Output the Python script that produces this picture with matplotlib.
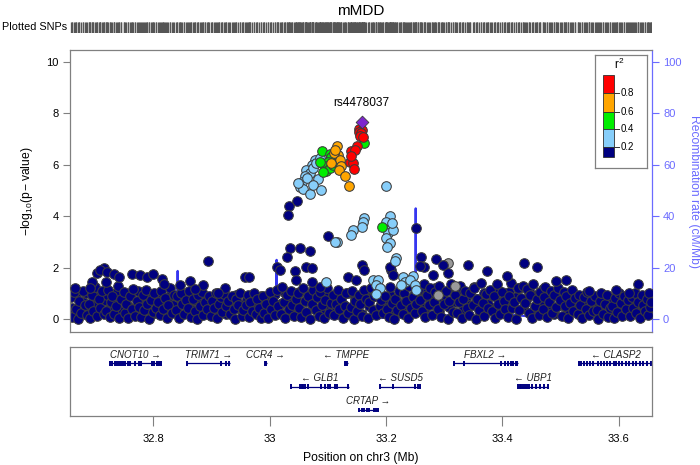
import matplotlib
matplotlib.use("Agg")
import matplotlib.pyplot as plt
from matplotlib.patches import Rectangle

plt.rcParams['font.family'] = ['Liberation Sans', 'DejaVu Sans']
plt.rcParams['mathtext.fontset'] = 'custom'
plt.rcParams['mathtext.rm'] = 'Liberation Sans'
plt.rcParams['mathtext.it'] = 'Liberation Sans:italic'

# ---------------- data ----------------
title = "mMDD"
lead_snp = "rs4478037"
lead_pos = [33.158]
lead_logp = [7.64]

red_pos = [33.1537, 33.1594, 33.1530, 33.1577, 33.1548, 33.1606, 33.1508, 33.1405, 33.1474,
           33.1376, 33.1434, 33.1451, 33.1405]
red_logp = [7.40, 7.35, 7.28, 7.23, 7.12, 7.07, 6.73, 6.51, 6.58, 6.12, 6.06, 5.82, 6.32]

orange_pos = [33.115, 33.118, 33.111, 33.1205, 33.122, 33.1188, 33.129, 33.136, 33.106, 33.113]
orange_logp = [6.71, 6.38, 6.45, 6.19, 5.95, 5.80, 5.54, 5.18, 6.06, 6.55]

green_pos = [33.0903, 33.1034, 33.106, 33.1006, 33.0948, 33.0977, 33.1034, 33.109, 33.0857,
             33.0925, 33.1624, 33.193]
green_logp = [6.51, 6.42, 6.29, 6.12, 5.93, 5.77, 5.86, 5.99, 6.11, 5.72, 6.84, 3.57]

lblue_pos = [33.078, 33.072, 33.063, 33.069, 33.083, 33.0605, 33.055, 33.052, 33.058, 33.069,
             33.049, 33.075, 33.0805, 33.0857, 33.065, 33.075, 33.089, 33.2005,
             33.163, 33.1606, 33.158, 33.1434, 33.1405, 33.115, 33.112,
             33.206, 33.2005, 33.209, 33.203, 33.2005, 33.206, 33.202, 33.2165, 33.2147,
             33.212, 33.210,
             33.0977, 33.1777, 33.186, 33.1834, 33.189, 33.1834, 33.229, 33.246, 33.232,
             33.2404, 33.249, 33.226, 33.252]
lblue_logp = [6.19, 5.99, 5.80, 5.67, 5.43, 5.56, 5.34, 5.12, 5.05, 4.86,
              5.28, 5.86, 6.06, 6.26, 5.49, 5.21, 5.02, 5.18,
              3.92, 3.79, 3.59, 3.46, 3.27, 3.01, 2.98,
              4.00, 3.79, 3.53, 3.33, 3.14, 2.94, 2.81, 2.36, 2.27,
              3.46, 3.75,
              1.45, 1.52, 1.52, 1.32, 1.19, 0.97, 1.65, 1.67, 1.45,
              1.52, 1.32, 1.32, 1.13]

gray_pos = [33.306, 33.318, 33.290]
gray_logp = [2.19, 1.30, 0.95]

# r2 < 0.2 : outliers above the dense band
navy_hi_pos = [32.7035, 32.715, 32.709, 32.7207, 32.732, 32.7407, 32.7635, 32.778, 32.789,
               32.7995, 32.815, 32.818, 32.846, 32.863, 32.886, 32.894, 32.872, 32.923,
               32.912, 32.958, 32.965, 32.695, 32.692, 32.718, 32.666,
               33.0475, 33.033, 33.032, 33.1005, 33.035, 33.029, 33.052, 33.069, 33.012,
               33.018, 33.043, 33.063, 33.072, 33.046, 33.072, 33.086, 33.135, 33.158,
               33.163, 33.149, 33.209, 33.206, 33.212, 33.252, 33.260, 33.266, 33.258,
               33.286, 33.281, 33.298, 33.306,
               33.340, 33.373, 33.4365, 33.459, 33.407, 33.6336, 33.509, 33.492, 33.595,
               33.617, 33.548]
navy_hi_logp = [1.78, 2.00, 1.91, 1.84, 1.74, 1.65, 1.75, 1.71, 1.65,
                1.75, 1.56, 1.35, 1.32, 1.48, 1.32, 2.26, 1.17, 1.19,
                1.00, 1.62, 1.65, 1.45, 1.19, 1.45, 1.19,
                4.60, 4.40, 4.05, 3.24, 2.75, 2.40, 2.75, 2.66, 2.01,
                1.91, 1.88, 2.04, 1.97, 1.52, 1.45, 1.26, 1.65, 2.10,
                1.91, 1.52, 1.91, 2.04, 1.71, 3.53, 2.40, 2.04, 2.06,
                2.32, 1.71, 2.10, 1.78,
                2.10, 1.88, 2.19, 2.01, 1.68, 1.35, 1.52, 1.48, 1.13,
                1.01, 1.09]

# r2 < 0.2 : dense band near the baseline
navy_pos = [
    32.659, 32.661, 32.664, 32.667, 32.670, 32.673, 32.676, 32.679, 32.682, 32.686,
    32.689, 32.692, 32.694, 32.697, 32.700, 32.703, 32.706, 32.709, 32.712, 32.715,
    32.719, 32.722, 32.725, 32.727, 32.730, 32.733, 32.736, 32.739, 32.742, 32.745,
    32.749, 32.751, 32.754, 32.757, 32.760, 32.763, 32.766, 32.769, 32.772, 32.775,
    32.779, 32.782, 32.785, 32.788, 32.790, 32.793, 32.796, 32.799, 32.802, 32.805,
    32.809, 32.812, 32.814, 32.817, 32.820, 32.823, 32.826, 32.829, 32.832, 32.835,
    32.839, 32.841, 32.844, 32.847, 32.850, 32.853, 32.856, 32.859, 32.862, 32.865,
    32.869, 32.872, 32.875, 32.877, 32.880, 32.883, 32.886, 32.889, 32.892, 32.895,
    32.899, 32.901, 32.904, 32.907, 32.910, 32.913, 32.916, 32.919, 32.922, 32.925,
    32.929, 32.932, 32.935, 32.938, 32.940, 32.943, 32.946, 32.949, 32.952, 32.955,
    32.959, 32.962, 32.964, 32.967, 32.970, 32.973, 32.976, 32.979, 32.982, 32.985,
    32.989, 32.991, 32.994, 32.997, 33.000, 33.003, 33.006, 33.009, 33.012, 33.015,
    33.019, 33.022, 33.025, 33.027, 33.030, 33.033, 33.036, 33.039, 33.042, 33.045,
    33.049, 33.051, 33.054, 33.057, 33.060, 33.063, 33.066, 33.069, 33.072, 33.075,
    33.079, 33.082, 33.085, 33.087, 33.090, 33.093, 33.096, 33.099, 33.102, 33.105,
    33.109, 33.111, 33.114, 33.117, 33.120, 33.123, 33.126, 33.129, 33.132, 33.135,
    33.139, 33.142, 33.145, 33.147, 33.150, 33.153, 33.156, 33.159, 33.162, 33.165,
    33.169, 33.171, 33.174, 33.177, 33.180, 33.183, 33.186, 33.189, 33.192, 33.195,
    33.199, 33.202, 33.205, 33.207, 33.210, 33.213, 33.216, 33.219, 33.222, 33.225,
    33.229, 33.231, 33.234, 33.237, 33.240, 33.243, 33.246, 33.249, 33.252, 33.255,
    33.259, 33.262, 33.265, 33.267, 33.270, 33.273, 33.276, 33.279, 33.282, 33.285,
    33.289, 33.291, 33.294, 33.297, 33.300, 33.303, 33.306, 33.309, 33.312, 33.315,
    33.319, 33.322, 33.325, 33.327, 33.330, 33.333, 33.336, 33.339, 33.342, 33.345,
    33.349, 33.351, 33.354, 33.357, 33.360, 33.363, 33.366, 33.369, 33.372, 33.375,
    33.379, 33.382, 33.385, 33.387, 33.390, 33.393, 33.396, 33.399, 33.402, 33.405,
    33.409, 33.411, 33.414, 33.417, 33.420, 33.423, 33.426, 33.429, 33.432, 33.435,
    33.439, 33.442, 33.445, 33.447, 33.450, 33.453, 33.456, 33.459, 33.462, 33.465,
    33.469, 33.471, 33.474, 33.477, 33.480, 33.483, 33.486, 33.489, 33.492, 33.495,
    33.499, 33.502, 33.505, 33.507, 33.510, 33.513, 33.516, 33.519, 33.522, 33.525,
    33.529, 33.531, 33.534, 33.537, 33.540, 33.543, 33.546, 33.549, 33.552, 33.555,
    33.559, 33.562, 33.565, 33.567, 33.570, 33.573, 33.576, 33.579, 33.582, 33.585,
    33.589, 33.591, 33.594, 33.597, 33.600, 33.603, 33.606, 33.609, 33.612, 33.615,
    33.619, 33.622, 33.625, 33.627, 33.630, 33.633, 33.636, 33.639, 33.642, 33.645,
    33.648, 33.650, 33.652, 33.654, 33.656]
navy_logp = [
    0.85, 0.10, 1.05, 0.40, 0.02, 0.70, 0.25, 1.10, 0.55, 0.15,
    0.60, 0.05, 0.95, 0.32, 1.25, 0.12, 0.78, 0.45, 1.10, 0.20,
    0.30, 1.15, 0.08, 0.66, 0.90, 0.18, 0.50, 1.30, 0.03, 0.80,
    1.05, 0.22, 0.60, 0.04, 0.88, 0.38, 1.18, 0.14, 0.70, 0.48,
    0.10, 0.92, 0.35, 1.12, 0.58, 0.02, 0.76, 0.28, 1.00, 0.45,
    0.65, 0.15, 1.08, 0.40, 0.82, 0.06, 0.55, 1.20, 0.25, 0.95,
    0.35, 0.88, 0.05, 1.02, 0.60, 0.18, 0.75, 0.42, 1.10, 0.10,
    0.80, 0.30, 0.02, 0.95, 0.50, 1.05, 0.15, 0.68, 0.38, 0.90,
    0.12, 0.72, 0.44, 1.00, 0.05, 0.60, 0.85, 0.26, 0.96, 0.50,
    0.70, 0.20, 0.90, 0.40, 0.02, 0.78, 0.55, 1.02, 0.12, 0.35,
    0.55, 0.95, 0.08, 0.66, 0.30, 1.00, 0.18, 0.80, 0.45, 0.04,
    0.88, 0.25, 0.60, 0.03, 1.05, 0.40, 0.72, 0.15, 1.15, 0.50,
    0.20, 1.25, 0.65, 0.05, 0.92, 0.38, 1.10, 0.55, 0.12, 0.80,
    1.00, 0.45, 0.08, 1.22, 0.70, 0.28, 0.90, 0.02, 0.58, 1.15,
    0.35, 0.85, 0.12, 1.05, 0.55, 0.03, 0.75, 1.20, 0.25, 0.62,
    0.95, 0.15, 0.60, 1.12, 0.40, 0.80, 0.05, 0.50, 1.00, 0.22,
    0.48, 1.08, 0.02, 0.70, 0.30, 0.92, 0.58, 0.12, 1.15, 0.78,
    0.05, 0.65, 1.20, 0.35, 0.88, 0.15, 1.02, 0.50, 0.75, 0.25,
    0.90, 0.40, 0.10, 1.25, 0.62, 0.02, 0.80, 0.35, 1.10, 0.55,
    0.18, 1.00, 0.70, 0.05, 1.28, 0.45, 0.85, 0.25, 0.60, 1.15,
    0.75, 0.30, 1.35, 0.08, 0.95, 0.55, 1.20, 0.15, 0.68, 1.05,
    0.40, 1.30, 0.10, 0.85, 0.60, 1.10, 0.02, 0.72, 1.38, 0.28,
    0.95, 0.22, 0.65, 1.28, 0.05, 0.80, 1.10, 0.42, 0.15, 1.00,
    0.55, 1.22, 0.02, 0.78, 0.35, 1.40, 0.62, 0.12, 0.98, 0.45,
    1.15, 0.30, 0.88, 0.05, 1.35, 0.60, 0.20, 1.05, 0.72, 0.40,
    0.10, 0.90, 1.42, 0.45, 0.68, 0.02, 1.20, 0.35, 0.82, 1.30,
    0.62, 1.18, 0.25, 0.95, 0.05, 1.35, 0.50, 0.78, 0.15, 1.05,
    0.38, 0.85, 1.25, 0.08, 0.65, 1.10, 0.22, 0.92, 0.48, 1.20,
    0.75, 0.12, 1.05, 0.50, 0.90, 0.03, 0.62, 1.15, 0.30, 0.82,
    0.20, 0.95, 0.55, 0.05, 0.85, 0.40, 1.05, 0.15, 0.70, 0.30,
    0.88, 0.35, 0.02, 0.72, 1.00, 0.18, 0.58, 0.92, 0.10, 0.45,
    0.50, 0.05, 0.82, 0.28, 1.02, 0.62, 0.14, 0.90, 0.40, 0.75,
    0.12, 0.85, 0.45, 1.00, 0.25, 0.68, 0.05, 0.92, 0.55, 0.30,
    0.78, 0.15, 1.02, 0.48, 0.65]

# r2 < 0.2 : second layer of the dense band
navy2_pos = [
    32.6605, 32.6665, 32.6725, 32.6785, 32.6845, 32.6905, 32.6965, 32.7025, 32.7085, 32.7145,
    32.7205, 32.7265, 32.7325, 32.7385, 32.7445, 32.7505, 32.7565, 32.7625, 32.7685, 32.7745,
    32.7805, 32.7865, 32.7925, 32.7985, 32.8045, 32.8105, 32.8165, 32.8225, 32.8285, 32.8345,
    32.8405, 32.8465, 32.8525, 32.8585, 32.8645, 32.8705, 32.8765, 32.8825, 32.8885, 32.8945,
    32.9005, 32.9065, 32.9125, 32.9185, 32.9245, 32.9305, 32.9365, 32.9425, 32.9485, 32.9545,
    32.9605, 32.9665, 32.9725, 32.9785, 32.9845, 32.9905, 32.9965, 33.0025, 33.0085, 33.0145,
    33.0205, 33.0265, 33.0325, 33.0385, 33.0445, 33.0505, 33.0565, 33.0625, 33.0685, 33.0745,
    33.0805, 33.0865, 33.0925, 33.0985, 33.1045, 33.1105, 33.1165, 33.1225, 33.1285, 33.1345,
    33.1405, 33.1465, 33.1525, 33.1585, 33.1645, 33.1705, 33.1765, 33.1825, 33.1885, 33.1945,
    33.2005, 33.2065, 33.2125, 33.2185, 33.2245, 33.2305, 33.2365, 33.2425, 33.2485, 33.2545,
    33.2605, 33.2665, 33.2725, 33.2785, 33.2845, 33.2905, 33.2965, 33.3025, 33.3085, 33.3145,
    33.3205, 33.3265, 33.3325, 33.3385, 33.3445, 33.3505, 33.3565, 33.3625, 33.3685, 33.3745,
    33.3805, 33.3865, 33.3925, 33.3985, 33.4045, 33.4105, 33.4165, 33.4225, 33.4285, 33.4345,
    33.4405, 33.4465, 33.4525, 33.4585, 33.4645, 33.4705, 33.4765, 33.4825, 33.4885, 33.4945,
    33.5005, 33.5065, 33.5125, 33.5185, 33.5245, 33.5305, 33.5365, 33.5425, 33.5485, 33.5545,
    33.5605, 33.5665, 33.5725, 33.5785, 33.5845, 33.5905, 33.5965, 33.6025, 33.6085, 33.6145,
    33.6205, 33.6265, 33.6325, 33.6385, 33.6445, 33.6505, 33.6555]
navy2_logp = [
    0.45, 0.92, 0.20, 0.68, 1.02, 0.35, 0.58, 0.85, 0.28, 0.72,
    0.95, 0.42, 0.62, 1.05, 0.30, 0.78, 0.52, 0.96, 0.22, 1.10,
    0.64, 0.38, 0.88, 0.18, 0.98, 0.48, 0.70, 0.32, 0.90, 0.55,
    0.28, 0.82, 0.60, 0.95, 0.40, 0.75, 0.22, 0.62, 0.88, 0.45,
    0.70, 0.30, 0.85, 0.52, 0.20, 0.78, 0.42, 0.92, 0.60, 0.25,
    0.80, 0.48, 0.65, 0.32, 0.90, 0.55, 0.18, 0.75, 0.98, 0.40,
    0.62, 1.00, 0.35, 0.82, 0.50, 1.05, 0.28, 0.70, 0.92, 0.45,
    0.85, 0.30, 0.65, 0.95, 0.40, 0.72, 0.22, 0.88, 0.55, 1.02,
    0.35, 0.78, 0.60, 0.18, 0.98, 0.50, 0.85, 0.30, 1.08, 0.65,
    0.45, 0.92, 0.25, 0.70, 1.10, 0.52, 0.80, 0.38, 0.95, 0.62,
    1.15, 0.42, 0.85, 0.60, 1.22, 0.30, 0.98, 0.72, 0.48, 1.08,
    0.65, 1.18, 0.35, 0.88, 0.55, 1.25, 0.78, 0.25, 1.02, 0.60,
    0.92, 0.40, 1.15, 0.70, 0.22, 1.05, 0.58, 0.85, 1.20, 0.45,
    0.75, 1.10, 0.32, 0.95, 0.60, 1.18, 0.42, 0.82, 0.20, 1.00,
    0.55, 0.85, 0.30, 0.72, 0.95, 0.45, 0.65, 0.18, 0.88, 0.50,
    0.70, 0.35, 0.92, 0.58, 0.25, 0.80, 0.48, 0.95, 0.62, 0.38,
    0.82, 0.55, 0.28, 0.75, 0.60, 0.42, 0.70]

recomb_pos = [32.655, 32.700, 32.750, 32.800, 32.8415, 32.842, 32.8425, 32.870, 32.920, 32.960,
              33.000, 33.0115, 33.012, 33.0125, 33.050, 33.100, 33.150, 33.200, 33.2505, 33.251,
              33.2515, 33.300, 33.350, 33.400, 33.450, 33.500, 33.550, 33.600, 33.657]
recomb_rate = [1.0, 0.5, 1.5, 0.8, 1.2, 18.7, 1.0, 0.6, 1.4, 0.8,
               1.0, 1.5, 23.0, 2.0, 0.5, 0.3, 0.2, 0.5, 1.0, 43.0,
               2.0, 1.5, 0.8, 2.0, 1.0, 0.6, 1.8, 0.9, 1.2]

gene_names = ['CNOT10', 'TRIM71', 'CCR4', 'TMPPE', 'GLB1', 'SUSD5', 'FBXL2', 'UBP1', 'CLASP2', 'CRTAP']
gene_start = [32.725, 32.858, 32.992, 33.129, 33.036, 33.189, 33.316, 33.426, 33.532, 33.152]
gene_end = [32.814, 32.932, 32.995, 33.135, 33.136, 33.259, 33.426, 33.479, 33.660, 33.187]
gene_strand = ['+', '+', '+', '-', '-', '-', '+', '-', '-', '+']
gene_row = [1, 1, 1, 1, 2, 2, 1, 2, 1, 3]
gene_exons = [
    [32.7250, 32.7300, 32.7350, 32.7385, 32.7420, 32.7450, 32.7480, 32.7520, 32.7560, 32.7600,
     32.7680, 32.7750, 32.7790, 32.7980, 32.8020, 32.8060, 32.8100, 32.8135],
    [32.8580, 32.9160, 32.9250, 32.9310],
    [32.9920, 32.9935],
    [33.1290, 33.1310, 33.1330],
    [33.0365, 33.0520, 33.0550, 33.0580, 33.0600, 33.0660, 33.0890, 33.0950, 33.1000, 33.1040,
     33.1120, 33.1150, 33.1355],
    [33.1890, 33.2120, 33.2500, 33.2550, 33.2585],
    [33.3160, 33.3335, 33.3980, 33.4040, 33.4095, 33.4150, 33.4190, 33.4230, 33.4255],
    [33.4265, 33.4295, 33.4320, 33.4350, 33.4390, 33.4430, 33.4460, 33.4500, 33.4570, 33.4650,
     33.4720, 33.4785],
    [33.5320, 33.5350, 33.5400, 33.5460, 33.5500, 33.5560, 33.5640, 33.5690, 33.5740, 33.5790,
     33.5850, 33.5920, 33.5960, 33.6010, 33.6060, 33.6130, 33.6180, 33.6240, 33.6300, 33.6360,
     33.6420, 33.6480, 33.6550],
    [33.1530, 33.1580, 33.1630, 33.1670, 33.1710, 33.1800, 33.1830, 33.1860],
]

xticks = [32.8, 33.0, 33.2, 33.4, 33.6]
xtick_labels = ['32.8', '33', '33.2', '33.4', '33.6']
yticks = [0, 2, 4, 6, 8, 10]
rticks = [0, 20, 40, 60, 80, 100]
legend_levels = ['0.8', '0.6', '0.4', '0.2']

# ---------------- style ----------------
NAVY = '#000080'
LBLUE = '#87CEFA'
GREEN = '#00EE00'
ORANGE = '#FFA500'
RED = '#FF0000'
PURPLE = '#7D26CD'
RECOMB = '#3636f0'
RAXIS = '#6b6bff'
SPINE = '#808080'
EDGE = '#3c3c3c'
XLIM = (32.657, 33.657)
YLIM = (-0.5, 10.45)

W, H = 700, 465
fig = plt.figure(figsize=(7.0, 4.65), dpi=100)


def fax(x0, y0, x1, y1):
    return fig.add_axes([x0 / W, 1 - y1 / H, (x1 - x0) / W, (y1 - y0) / H])


ax = fax(70, 50, 652, 332)
ax.set_xlim(*XLIM)
ax.set_ylim(*YLIM)

# recombination rate (behind points)
ax2 = ax.twinx()
ax2.set_ylim(YLIM[0] * 10, YLIM[1] * 10)
ax2.plot(recomb_pos, recomb_rate, color=RECOMB, lw=1.6, zorder=1)
ax2.set_zorder(0)
ax.set_zorder(1)
ax.patch.set_visible(False)

ms = 48
kw = dict(s=ms, edgecolors=EDGE, linewidths=0.75)
ax.scatter(navy2_pos, navy2_logp, c=NAVY, zorder=2, **kw)
ax.scatter(navy_pos, navy_logp, c=NAVY, zorder=2, **kw)
ax.scatter(gray_pos, gray_logp, c='#9a9a9a', zorder=2, **kw)
ax.scatter(navy_hi_pos, navy_hi_logp, c=NAVY, zorder=3, **kw)
ax.scatter(lblue_pos, lblue_logp, c=LBLUE, zorder=4, **kw)
ax.scatter(green_pos, green_logp, c=GREEN, zorder=5, **kw)
ax.scatter(orange_pos, orange_logp, c=ORANGE, zorder=6, **kw)
ax.scatter(red_pos, red_logp, c=RED, zorder=7, **kw)
ax.scatter(lead_pos, lead_logp, c=PURPLE, marker='D', s=42, edgecolors=EDGE, linewidths=0.6, zorder=8)
ax.annotate(lead_snp, (lead_pos[0], lead_logp[0]), xytext=(0, 14), textcoords='offset points',
            ha='center', va='center', fontsize=8.6, zorder=9)

ax.set_xticks([])
ax.set_yticks(yticks)
ax.set_yticklabels([str(t) for t in yticks], fontsize=8)
ax.tick_params(axis='y', length=5, color=SPINE, width=0.8, pad=3)
ax.set_ylabel(r'$\mathrm{-log_{10}(p-value)}$', fontsize=8.7, labelpad=8)
for s in ['left', 'top', 'bottom']:
    ax.spines[s].set_color(SPINE)
    ax.spines[s].set_linewidth(0.9)
ax.spines['right'].set_visible(False)

ax2.set_yticks(rticks)
ax2.set_yticklabels([str(t) for t in rticks], fontsize=8, color=RAXIS)
ax2.tick_params(axis='y', length=5, color=RAXIS, width=0.8, pad=3)
ax2.set_ylabel('Recombination rate (cM/Mb)', fontsize=8.7, color=RAXIS, rotation=270, labelpad=13)
for s in ['left', 'top', 'bottom']:
    ax2.spines[s].set_visible(False)
ax2.spines['right'].set_color(RAXIS)
ax2.spines['right'].set_linewidth(0.9)
ax2.set_xticks([])

# legend box (pixel coordinates relative to its own box)
lg = fax(595, 55, 647, 168)
lg.set_xlim(0, 52)
lg.set_ylim(113, 0)
lg.set_xticks([])
lg.set_yticks([])
for s in lg.spines.values():
    s.set_color(SPINE)
    s.set_linewidth(0.9)
lg.set_zorder(5)
bounds = [20, 38.3, 56.7, 74.3, 92.3, 102]
cols = [RED, ORANGE, GREEN, LBLUE, NAVY]
for i, c in enumerate(cols):
    lg.add_patch(Rectangle((8, bounds[i]), 10.5, bounds[i + 1] - bounds[i], facecolor=c,
                           edgecolor='#303030', lw=0.6))
for i, lab in enumerate(legend_levels):
    yb = bounds[i + 1]
    lg.plot([18.5, 23.5], [yb, yb], color='#303030', lw=0.7)
    lg.text(25.5, yb, lab, fontsize=7, va='center', ha='left')
lg.text(24, 9.5, r'$\mathrm{r^2}$', fontsize=8.5, ha='center', va='center')

# plotted SNPs rug
rug = fax(70, 22, 652, 33)
all_pos = (navy_pos + navy2_pos + navy_hi_pos + gray_pos + lblue_pos + green_pos + orange_pos
           + red_pos + lead_pos)
rug.vlines(all_pos, 0, 1, color='#555555', lw=0.95)
rug.set_xlim(*XLIM)
rug.set_ylim(0, 1)
rug.axis('off')
fig.text(67 / W, 1 - 27.5 / H, 'Plotted SNPs', fontsize=7.8, ha='right', va='center')
fig.text(361 / W, 1 - 11 / H, title, fontsize=11, ha='center', va='center')

# gene track
ga = fax(70, 347, 652, 416)
ga.set_xlim(*XLIM)
ga.set_ylim(3.26, 0.30)
for name, s0, e0, strand, row, exons in zip(gene_names, gene_start, gene_end, gene_strand,
                                            gene_row, gene_exons):
    e_clip = min(e0, XLIM[1])
    ga.plot([s0, e_clip], [row, row], color=NAVY, lw=0.9, solid_capstyle='butt')
    ex = [x for x in exons if x <= XLIM[1]]
    ga.vlines(ex, row - 0.1, row + 0.1, color=NAVY, lw=1.4)
    label = (name + ' \u2192') if strand == '+' else ('\u2190 ' + name)
    ga.text((s0 + e_clip) / 2, row - 0.37, label, fontsize=7, style='italic', ha='center',
            va='center', color='#202020')
ga.set_yticks([])
ga.set_xticks(xticks)
ga.set_xticklabels(xtick_labels, fontsize=8)
ga.tick_params(axis='x', length=7, color=SPINE, width=0.8, pad=6)
for s in ga.spines.values():
    s.set_color(SPINE)
    s.set_linewidth(0.9)
ga.set_xlabel('Position on chr3 (Mb)', fontsize=8.7, labelpad=6)

fig.savefig('out.png', dpi=100)
